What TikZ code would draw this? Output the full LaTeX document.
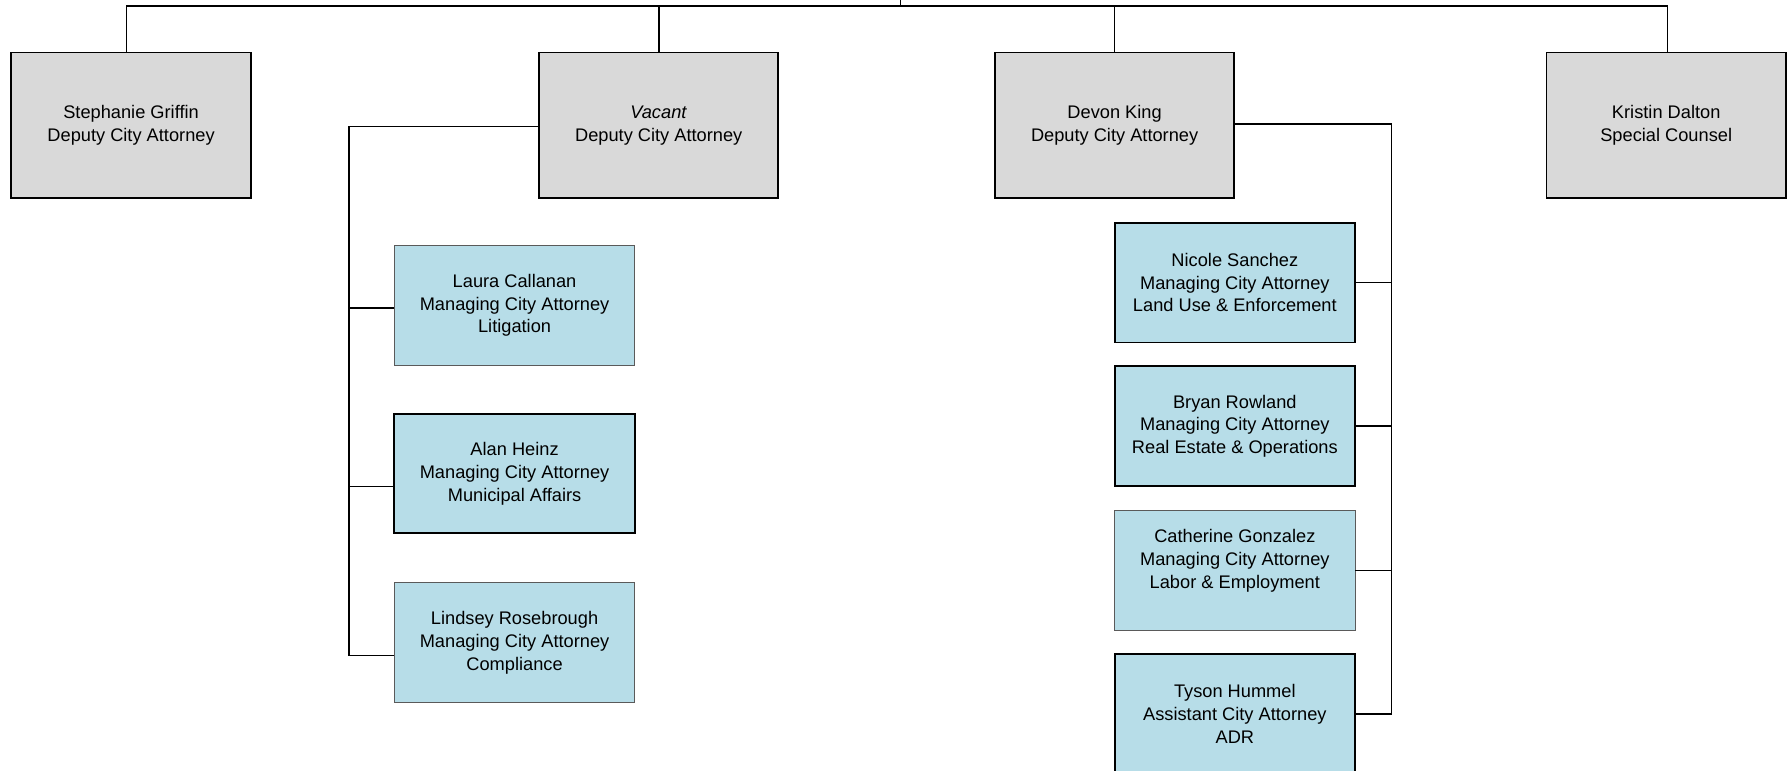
\documentclass[tikz,border=0pt]{standalone}
\usepackage{fontspec}
\setmainfont{Liberation Sans}
\usepackage{tikz}
\usetikzlibrary{positioning}

\definecolor{deputygray}{RGB}{217,217,217}
\definecolor{managerblue}{RGB}{183,221,232}
\definecolor{thinedge}{RGB}{90,90,90}

\tikzset{
  deputybox/.style={draw=black, line width=1.6pt, fill=deputygray, minimum width=210pt, minimum height=128pt,
    inner sep=0pt, outer sep=0pt, align=center, font=\fontsize{16}{20}\selectfont},
  managerbox/.style={draw=black, line width=1.6pt, fill=managerblue, minimum width=211pt, minimum height=105pt,
    inner sep=0pt, outer sep=0pt, align=center, font=\fontsize{16}{20}\selectfont},
  thinbox/.style={draw=thinedge, line width=0.9pt},
  link/.style={draw=black, line width=1.4pt}
}

\begin{document}
\begin{tikzpicture}[x=1pt,y=1pt,yscale=-1,xscale=1]
				\useasboundingbox (0,0) rectangle (1568,676.5);
				
				%Shape: Deputy boxes
				\node [deputybox] (griffin) at (115,110) {Stephanie Griffin\\Deputy City Attorney};
				\node [deputybox] (vacant) at (578,110) {\textit{Vacant}\\Deputy City Attorney};
				\node [deputybox] (king) at (978,110) {Devon King\\Deputy City Attorney};
				\node [deputybox] (dalton) at (1462,110) {Kristin Dalton\\Special Counsel};
				
				%Shape: Managers under Vacant
				\node [managerbox,thinbox] (callanan) at (451.5,268) {Laura Callanan\\Managing City Attorney\\Litigation};
				\node [managerbox] (heinz) at (451.5,415.5) {Alan Heinz\\Managing City Attorney\\Municipal Affairs};
				\node [managerbox,thinbox] (rosebrough) at (451.5,564) {Lindsey Rosebrough\\Managing City Attorney\\Compliance};
				
				%Shape: Managers under Devon King
				\node [managerbox] (sanchez) at (1083.5,248) {Nicole Sanchez\\Managing City Attorney\\Land Use \& Enforcement};
				\node [managerbox] (rowland) at (1083.5,374) {Bryan Rowland\\Managing City Attorney\\Real Estate \& Operations};
				\node [managerbox,thinbox] (gonzalez) at (1083.5,500.5) {Catherine Gonzalez\\Managing City Attorney\\Labor \& Employment\\\mbox{}};
				\node [managerbox] (hummel) at (1083.5,626.5) {Tyson Hummel\\Assistant City Attorney\\ADR};
				
				%Straight Lines: top bus
				\coordinate (root) at (790,0);
				\coordinate (hub) at (790,5.5);
				\draw [link] (root) -- (hub);
				\draw [link] ([xshift=-4pt]griffin.north) |- (hub) -| ([xshift=1pt]dalton.north);
				\draw [link] (vacant.north) -- (vacant.north |- hub);
				\draw [link] (king.north) -- (king.north |- hub);
				
				%Straight Lines: left branch
				\coordinate (leftbus) at (306,0);
				\coordinate (callananin) at ([yshift=2pt]callanan.west);
				\coordinate (heinzin) at ([yshift=11.5pt]heinz.west);
				\coordinate (rosebroughin) at ([yshift=11pt]rosebrough.west);
				\draw [link] ([yshift=1pt]vacant.west) -| (leftbus |- rosebroughin) -- (rosebroughin);
				\foreach \m in {callananin,heinzin}
				  \draw [link] (leftbus |- \m) -- (\m);
				
				%Straight Lines: right branch
				\coordinate (rightbus) at (1221,0);
				\draw [link] ([yshift=-1pt]king.east) -| (rightbus |- hummel.east) -- (hummel.east);
				\foreach \m in {sanchez,rowland,gonzalez}
				  \draw [link] (rightbus |- \m.east) -- (\m.east);
				
\end{tikzpicture}
\end{document}
